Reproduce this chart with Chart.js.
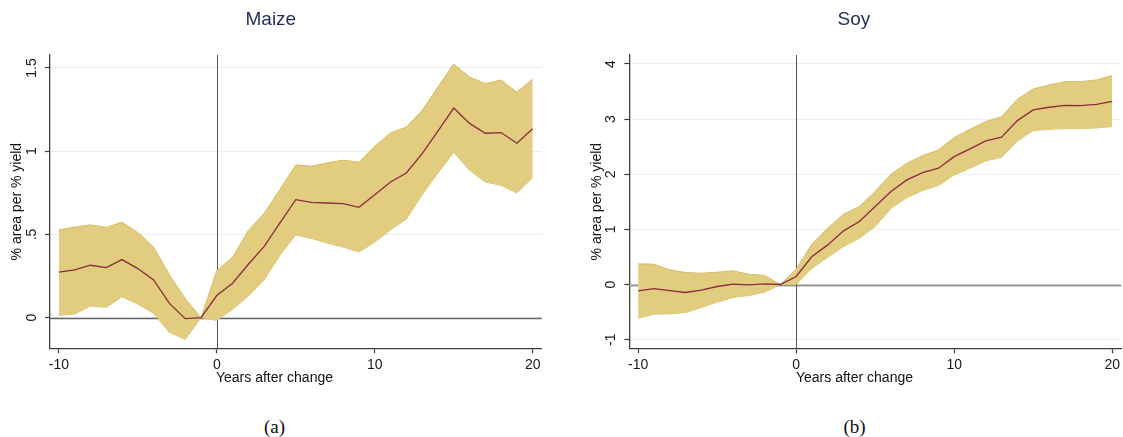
<!DOCTYPE html>
<html>
<head>
<meta charset="utf-8">
<script src="https://cdn.jsdelivr.net/npm/chart.js@4/dist/chart.umd.min.js"></script>
<style>
  html, body { margin: 0; padding: 0; background: #fff; width: 1123px; height: 437px; overflow: hidden; }
  .panel { position: absolute; top: 0; }
  #panelA { left: 0; }
  #panelB { left: 586px; }
  .cap { position: absolute; top: 417px; width: 60px; text-align: center; line-height: 20px;
         font-family: "Liberation Serif", "DejaVu Serif", serif; font-size: 19px; color: #111; }
</style>
</head>
<body>
<div class="panel" id="panelA"><canvas id="maize" width="549" height="392"></canvas></div>
<div class="panel" id="panelB"><canvas id="soy" width="537" height="392"></canvas></div>
<div class="cap" style="left:244.5px">(a)</div>
<div class="cap" style="left:824.5px">(b)</div>
<script>
// Event-time axis: years relative to the change
const years = [-10, -9, -8, -7, -6, -5, -4, -3, -2, -1, 0, 1, 2, 3, 4, 5, 6, 7, 8, 9, 10,
               11, 12, 13, 14, 15, 16, 17, 18, 19, 20];

// Maize: point estimate and confidence band
const maizeEst = [0.273, 0.287, 0.315, 0.301, 0.349, 0.295, 0.227, 0.086, -0.006, 0, 0.133,
                  0.207, 0.321, 0.428, 0.570, 0.709, 0.693, 0.689, 0.685, 0.663, 0.739,
                  0.815, 0.869, 0.986, 1.120, 1.259, 1.167, 1.108, 1.112, 1.048, 1.135];
const maizeHi  = [0.528, 0.544, 0.558, 0.542, 0.574, 0.512, 0.424, 0.257, 0.116, 0, 0.283,
                  0.363, 0.524, 0.628, 0.770, 0.918, 0.910, 0.930, 0.946, 0.934, 1.030,
                  1.110, 1.145, 1.245, 1.386, 1.524, 1.446, 1.406, 1.428, 1.355, 1.432];
const maizeLo  = [0.014, 0.022, 0.070, 0.062, 0.126, 0.082, 0.026, -0.088, -0.130, 0, -0.016,
                  0.050, 0.130, 0.227, 0.375, 0.498, 0.476, 0.448, 0.424, 0.394, 0.454,
                  0.528, 0.592, 0.739, 0.869, 0.994, 0.886, 0.815, 0.795, 0.749, 0.843];

// Soy: point estimate and confidence band
const soyEst = [-0.115, -0.073, -0.109, -0.145, -0.103, -0.036, 0.006, -0.006, 0.012, 0, 0.145,
                0.508, 0.719, 0.973, 1.142, 1.414, 1.686, 1.897, 2.030, 2.109, 2.320,
                2.459, 2.604, 2.671, 2.973, 3.166, 3.215, 3.251, 3.245, 3.269, 3.323];
const soyHi  = [0.375, 0.369, 0.266, 0.218, 0.205, 0.224, 0.248, 0.187, 0.163, 0, 0.278,
                0.737, 1.021, 1.275, 1.414, 1.686, 2.000, 2.199, 2.338, 2.441, 2.665,
                2.816, 2.955, 3.045, 3.360, 3.547, 3.619, 3.680, 3.680, 3.710, 3.789];
const soyLo  = [-0.610, -0.538, -0.532, -0.508, -0.417, -0.320, -0.236, -0.199, -0.139, 0, 0.000,
                0.296, 0.495, 0.689, 0.840, 1.051, 1.384, 1.577, 1.704, 1.795, 1.988,
                2.109, 2.242, 2.308, 2.604, 2.792, 2.816, 2.828, 2.828, 2.840, 2.864];

// Tick values and their labels
const xTicks = [-10, 0, 10, 20];
const xTickLabels = ['-10', '0', '10', '20'];
const maizeYTicks = [0, 0.5, 1, 1.5];
const maizeYTickLabels = ['0', '.5', '1', '1.5'];
const soyYTicks = [-1, 0, 1, 2, 3, 4];
const soyYTickLabels = ['-1', '0', '1', '2', '3', '4'];

Chart.defaults.font.family = '"Liberation Sans", Arial, Helvetica, sans-serif';
Chart.defaults.color = '#1a1a1a';

const BAND_FILL = '#e1cc80';
const BAND_EDGE = '#d6bd62';
const EST_LINE = '#8b2c3d';
const AXIS = '#3f3f3f';

const pts = (ys) => years.map((x, i) => ({ x, y: ys[i] }));

// Zero reference lines behind the band, plus the centred x-axis caption
const refLines = {
  id: 'refLines',
  beforeDatasetsDraw(chart, args, o) {
    const { ctx, chartArea: a, scales: { x, y } } = chart;
    ctx.save();
    const y0 = Math.round(y.getPixelForValue(0)) + 0.5;
    ctx.strokeStyle = o.hColor; ctx.lineWidth = o.hWidth;
    ctx.beginPath(); ctx.moveTo(a.left, y0); ctx.lineTo(a.right, y0); ctx.stroke();
    const x0 = Math.round(x.getPixelForValue(0)) + 0.5;
    ctx.strokeStyle = o.vColor; ctx.lineWidth = 1;
    ctx.beginPath(); ctx.moveTo(x0, a.top); ctx.lineTo(x0, a.bottom); ctx.stroke();
    ctx.restore();
  },
  afterDraw(chart, args, o) {
    const ctx = chart.ctx;
    ctx.save();
    ctx.font = '14px "Liberation Sans", Arial, sans-serif';
    ctx.fillStyle = '#111';
    ctx.textAlign = 'center';
    ctx.textBaseline = 'middle';
    ctx.fillText(o.caption, chart.width / 2, o.captionY);
    ctx.restore();
  }
};

function makeChart(id, cfg) {
  return new Chart(document.getElementById(id), {
    type: 'line',
    data: {
      datasets: [
        { data: pts(cfg.lo), borderColor: BAND_EDGE, borderWidth: 1, pointRadius: 0, fill: false, order: 2 },
        { data: pts(cfg.hi), borderColor: BAND_EDGE, borderWidth: 1, pointRadius: 0,
          backgroundColor: BAND_FILL, fill: '-1', order: 1 },
        { data: pts(cfg.est), borderColor: EST_LINE, borderWidth: 1.3, pointRadius: 0, fill: false, order: 0 }
      ]
    },
    options: {
      responsive: false,
      animation: false,
      events: [],
      layout: { autoPadding: false, padding: { left: 0, right: cfg.padRight, top: 0, bottom: 0 } },
      plugins: {
        legend: { display: false },
        tooltip: { enabled: false },
        title: {
          display: true, text: cfg.title, color: '#1f2d5c',
          font: { size: 19, weight: 'normal' },
          padding: { top: 8.6, bottom: 23.6 }
        },
        refLines: { hColor: cfg.zeroColor, hWidth: cfg.zeroWidth, vColor: '#555',
                    caption: 'Years after change', captionY: 378 }
      },
      scales: {
        x: {
          type: 'linear', min: -10.56, max: 20.57,
          afterBuildTicks: (s) => { s.ticks = xTicks.map((v) => ({ value: v })); },
          afterFit: (s) => { s.height = 43.7; },
          ticks: {
            maxRotation: 0, padding: 3, color: '#1a1a1a', font: { size: 14 },
            callback: (v) => xTickLabels[xTicks.indexOf(v)]
          },
          grid: { drawOnChartArea: false, tickLength: 5, tickColor: AXIS, tickWidth: 1.2 },
          border: { color: AXIS, width: 1.3 }
        },
        y: {
          type: 'linear', min: cfg.yMin, max: cfg.yMax,
          afterBuildTicks: (s) => { s.ticks = cfg.yTicks.map((v) => ({ value: v })); },
          afterFit: (s) => { s.width = cfg.yWidth; },
          ticks: {
            minRotation: 90, maxRotation: 90, crossAlign: 'center', padding: cfg.yTickPad,
            color: '#1a1a1a', font: { size: 14 },
            callback: (v) => cfg.yLabels[cfg.yTicks.indexOf(v)]
          },
          grid: { color: '#e6eeef', lineWidth: 1, tickLength: 5, tickColor: AXIS, tickWidth: 1.2 },
          border: { color: AXIS, width: 1.3 },
          title: {
            display: true, text: '% area per % yield', color: '#111',
            font: { size: 14 }, padding: { top: cfg.yTitlePad, bottom: 0 }
          }
        }
      }
    },
    plugins: [refLines]
  });
}

makeChart('maize', {
  title: 'Maize', est: maizeEst, hi: maizeHi, lo: maizeLo,
  yMin: -0.184, yMax: 1.578, yTicks: maizeYTicks, yLabels: maizeYTickLabels,
  yWidth: 50, yTickPad: 3.2, yTitlePad: 9.1, padRight: 7.3,
  zeroColor: '#666', zeroWidth: 1.3
});

makeChart('soy', {
  title: 'Soy', est: soyEst, hi: soyHi, lo: soyLo,
  yMin: -1.157, yMax: 4.163, yTicks: soyYTicks, yLabels: soyYTickLabels,
  yWidth: 43.3, yTickPad: 7.1, yTitlePad: 3.1, padRight: 1.3,
  zeroColor: '#999', zeroWidth: 2
});
</script>
</body>
</html>
